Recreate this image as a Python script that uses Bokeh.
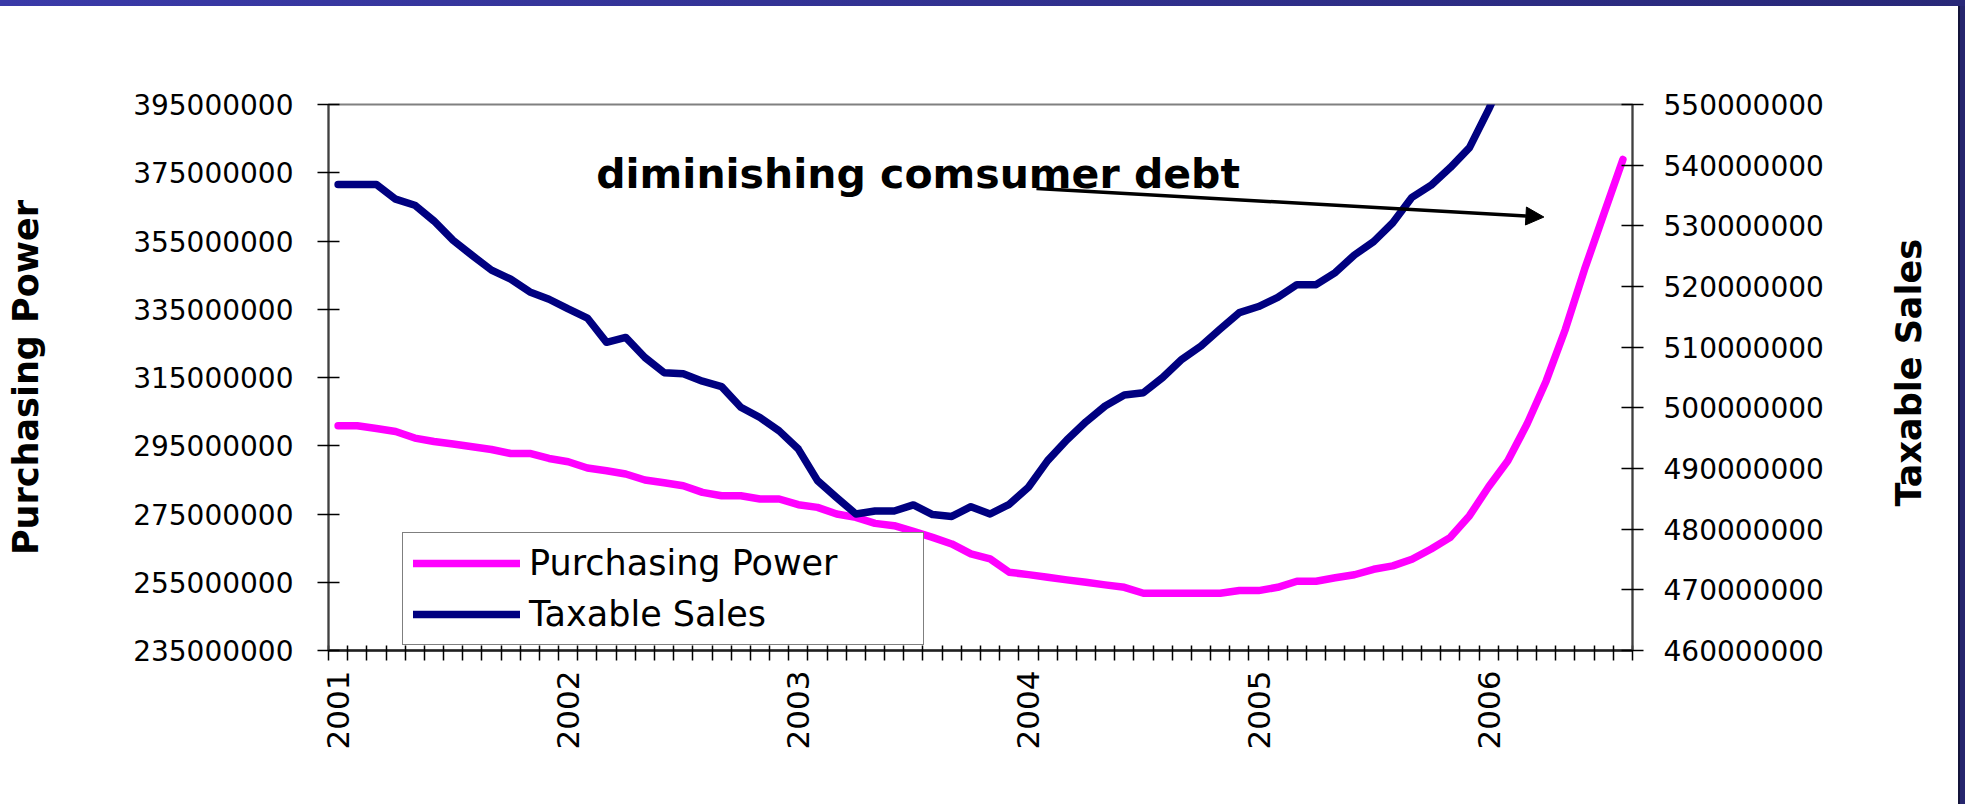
import math
from bokeh.plotting import figure
from bokeh.models import (Range1d, LinearAxis, FixedTicker, BasicTickFormatter,
                          Legend, LegendItem, Label, Arrow, NormalHead, ColumnDataSource, Div)
from bokeh.layouts import column, row
from bokeh.embed import file_html
from bokeh.resources import INLINE

# Monthly values, Jan 2001 .. Aug 2006, in millions
purchasing_power_m = [
    300.85, 300.85, 300.06, 299.18, 297.25, 296.25, 295.49, 294.70, 293.91, 292.74,
    292.74, 291.28, 290.31, 288.47, 287.68, 286.71, 284.96, 284.17, 283.29, 281.33,
    280.36, 280.36, 279.40, 279.40, 277.73, 276.94, 275.00, 274.00, 272.25, 271.58,
    269.91, 268.16, 266.23, 263.30, 261.83, 257.92, 257.24, 256.45, 255.69, 254.99,
    254.23, 253.52, 251.77, 251.77, 251.77, 251.77, 251.77, 252.56, 252.56, 253.52,
    255.28, 255.28, 256.30, 257.20, 258.79, 259.79, 261.72, 264.76, 268.16, 274.51,
    283.00, 290.61, 301.35, 314.00, 329.15, 346.71, 362.81, 378.90,
]
taxable_sales_m = [
    536.8, 536.8, 536.8, 534.4, 533.4, 530.8, 527.6, 525.1, 522.7, 521.2,
    519.1, 517.9, 516.3, 514.8, 510.8, 511.6, 508.3, 505.8, 505.6, 504.4,
    503.5, 500.1, 498.4, 496.2, 493.2, 488.0, 485.2, 482.5, 483.0, 483.0,
    484.0, 482.4, 482.1, 483.7, 482.5, 484.1, 486.9, 491.3, 494.7, 497.7,
    500.3, 502.1, 502.5, 505.0, 508.0, 510.2, 513.0, 515.7, 516.7, 518.2,
    520.3, 520.3, 522.3, 525.2, 527.4, 530.5, 534.7, 536.7, 539.6, 542.9,
    549.2, 556.0, 561.0, 566.0, 571.0, 576.0, 581.0, 586.0,
]
year_labels = ["2001", "2002", "2003", "2004", "2005", "2006"]
left_ticks = [235000000, 255000000, 275000000, 295000000, 315000000,
              335000000, 355000000, 375000000, 395000000]
right_ticks = [460000000, 470000000, 480000000, 490000000, 500000000,
               510000000, 520000000, 530000000, 540000000, 550000000]

n = len(purchasing_power_m)
month_index = list(range(n))
source = ColumnDataSource(dict(
    m=month_index,
    pp=[v * 1e6 for v in purchasing_power_m],
    ts=[v * 1e6 for v in taxable_sales_m],
))
year_ticks = [12 * k for k in range(len(year_labels))]
month_edges = [i - 0.5 for i in range(n + 1)]

FONT = "DejaVu Sans"

p = figure(frame_width=1304, frame_height=546,
           min_border_left=328, min_border_right=326,
           min_border_top=98, min_border_bottom=154,
           x_range=Range1d(-0.5, n - 0.5),
           y_range=Range1d(left_ticks[0], left_ticks[-1]),
           output_backend="svg", toolbar_location=None)
p.extra_y_ranges = {"sales": Range1d(right_ticks[0], right_ticks[-1])}

p.xgrid.visible = False
p.ygrid.visible = False
p.outline_line_color = "#808080"
p.outline_line_width = 2
p.background_fill_color = "white"
p.border_fill_color = "white"

# left axis
ly = p.yaxis[0]
ly.ticker = FixedTicker(ticks=left_ticks)
ly.formatter = BasicTickFormatter(use_scientific=False)
ly.axis_label = "Purchasing Power"
ly.axis_label_standoff = 84
ly.axis_label_text_font = FONT
ly.axis_label_text_font_style = "bold"
ly.axis_label_text_font_size = "35px"
ly.axis_label_text_color = "black"

# right axis
ry = LinearAxis(y_range_name="sales", ticker=FixedTicker(ticks=right_ticks),
                formatter=BasicTickFormatter(use_scientific=False))
p.add_layout(ry, "right")

for ax, standoff in ((ly, 24), (ry, 20)):
    ax.axis_line_color = "#404040"
    ax.axis_line_width = 2
    ax.major_tick_in = 11
    ax.major_tick_out = 11
    ax.major_tick_line_color = "black"
    ax.major_tick_line_width = 1.5
    ax.minor_tick_line_color = None
    ax.major_label_text_font = FONT
    ax.major_label_text_font_size = "28px"
    ax.major_label_text_color = "black"
    ax.major_label_standoff = standoff

# right axis title, reading bottom-to-top like the reference
right_title = Label(x=81.9, y=316.4e6, text="Taxable Sales", angle=math.pi / 2,
                    text_font=FONT, text_font_style="bold", text_font_size="35px",
                    text_color="black", text_align="center", text_baseline="middle")
p.add_layout(right_title, "right")

# bottom axis
bx = p.xaxis[0]
bx.ticker = FixedTicker(ticks=year_ticks, minor_ticks=month_edges)
bx.major_label_overrides = {t: lab for t, lab in zip(year_ticks, year_labels)}
bx.major_label_orientation = math.pi / 2
bx.major_tick_line_color = None
bx.major_tick_in = 0
bx.major_tick_out = 0
bx.minor_tick_in = 5
bx.minor_tick_out = 10
bx.minor_tick_line_color = "black"
bx.minor_tick_line_width = 1.5
bx.axis_line_color = "#202020"
bx.axis_line_width = 2.5
bx.major_label_text_font = FONT
bx.major_label_text_font_size = "31px"
bx.major_label_text_color = "black"
bx.major_label_standoff = 10

r_pp = p.line("m", "pp", source=source, line_color="#FF00FF", line_width=7.5,
              line_cap="round", line_join="round")
r_ts = p.line("m", "ts", source=source, y_range_name="sales", line_color="#000080",
              line_width=7.5, line_cap="round", line_join="round")

legend = Legend(items=[LegendItem(label="Purchasing Power", renderers=[r_pp]),
                       LegendItem(label="Taxable Sales", renderers=[r_ts])],
                location=(74, 5), margin=0, padding=10, spacing=11,
                glyph_width=107, glyph_height=36, label_height=36, label_width=384,
                label_standoff=9,
                label_text_font=FONT, label_text_font_size="35px",
                label_text_color="black",
                border_line_color="black", border_line_width=1,
                background_fill_color="white", background_fill_alpha=1.0)
p.add_layout(legend)

note = Label(x=13.46, y=374.6e6, text="diminishing comsumer debt",
             text_font=FONT, text_font_style="bold", text_font_size="41px",
             text_color="black", text_align="left", text_baseline="alphabetic")
p.add_layout(note)

arrow = Arrow(end=NormalHead(size=18, fill_color="black", line_color="black"),
              x_start=36.42, y_start=370.42e6, x_end=62.88, y_end=362.02e6,
              line_width=3.5, line_color="black")
p.add_layout(arrow)

top_band = Div(text="", width=1965, height=6, margin=0,
               styles={"background": "linear-gradient(90deg, #3a3aa8, #282878)"})
side_band = Div(text="", width=7, height=798, margin=0,
                styles={"background-color": "#26266e", "border-left": "2px solid #14143a",
                        "box-sizing": "border-box"})

layout = column(top_band, row(p, side_band, spacing=0), spacing=0)

open("out.html", "w").write(file_html(layout, INLINE))
